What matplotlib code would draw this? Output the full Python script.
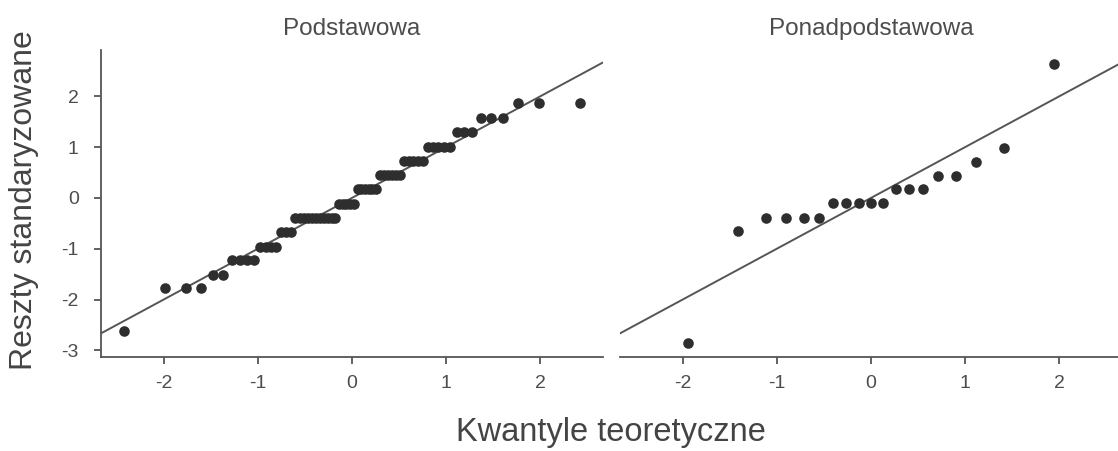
import matplotlib
matplotlib.use("Agg")
import matplotlib.pyplot as plt
from statistics import NormalDist

plt.rcParams['font.family'] = ['Liberation Sans', 'DejaVu Sans']

# standardized residuals, sorted
panels = ['Podstawowa', 'Ponadpodstawowa']
resid_podst = [-2.62,
               -1.78, -1.78, -1.78,
               -1.51, -1.51,
               -1.23, -1.23, -1.23, -1.23,
               -0.96, -0.96, -0.96, -0.96,
               -0.68, -0.68, -0.68,
               -0.40, -0.40, -0.40, -0.40, -0.40, -0.40, -0.40, -0.40, -0.40, -0.40, -0.40,
               -0.11, -0.11, -0.11, -0.11, -0.11,
               0.17, 0.17, 0.17, 0.17, 0.17, 0.17,
               0.45, 0.45, 0.45, 0.45, 0.45, 0.45,
               0.72, 0.72, 0.72, 0.72, 0.72,
               1.01, 1.01, 1.01, 1.01, 1.01,
               1.29, 1.29, 1.29,
               1.57, 1.57, 1.57,
               1.86, 1.86, 1.86]
resid_ponad = [-2.86, -0.66,
               -0.39, -0.39, -0.39, -0.39,
               -0.105, -0.105, -0.105, -0.105, -0.105,
               0.17, 0.17, 0.17,
               0.44, 0.44,
               0.71, 0.99, 2.64]
y_ticks = [-3, -2, -1, 0, 1, 2]
x_ticks = [-2, -1, 0, 1, 2]

txt = '#4d4d4d'
W, H = 1118, 451
fig = plt.figure(figsize=(W / 100, H / 100), dpi=100)

ax1 = fig.add_axes([101 / W, (H - 357) / H, 502 / W, 307 / H])
ax2 = fig.add_axes([620 / W, (H - 357) / H, 502 / W, 307 / H])

for ax, name, res in zip([ax1, ax2], panels, [resid_podst, resid_ponad]):
    n = len(res)
    theo = [NormalDist().inv_cdf((i + 0.5) / n) for i in range(n)]
    ax.axline((0, 0), slope=1, color='#555555', lw=1.4, zorder=1)
    ax.scatter(theo, sorted(res), s=58, color='#2e2e2e', linewidths=0, zorder=2)
    ax.set_xlim(-2.665, 2.665)
    ax.set_ylim(-3.13, 2.91)
    ax.set_xticks(x_ticks)
    ax.set_xticklabels([str(t) for t in x_ticks])
    ax.set_title(name, fontsize=17.5, color=txt, pad=11)
    for s in ['top', 'right']:
        ax.spines[s].set_visible(False)
    ax.spines['bottom'].set_color('#555555')
    ax.spines['left'].set_color('#555555')
    ax.spines['bottom'].set_linewidth(1.3)
    ax.spines['left'].set_linewidth(1.3)
    ax.tick_params(axis='x', length=5, width=1.3, color='#555555', labelsize=14,
                   labelcolor=txt, pad=8)
    ax.tick_params(axis='y', length=5, width=1.3, color='#555555', labelsize=14,
                   labelcolor=txt, pad=11)

ax1.set_yticks(y_ticks)
ax1.set_yticklabels([str(t) for t in y_ticks])
ax2.spines['left'].set_visible(False)
ax2.set_yticks([])

fig.text(611 / W, 1 - 433 / H, 'Kwantyle teoretyczne', ha='center', va='center',
         fontsize=23.5, color='#444444')
fig.text(24 / W, 1 - 200 / H, 'Reszty standaryzowane', ha='center', va='center',
         rotation=90, fontsize=23, color='#444444')

fig.savefig('out.png', dpi=100)
